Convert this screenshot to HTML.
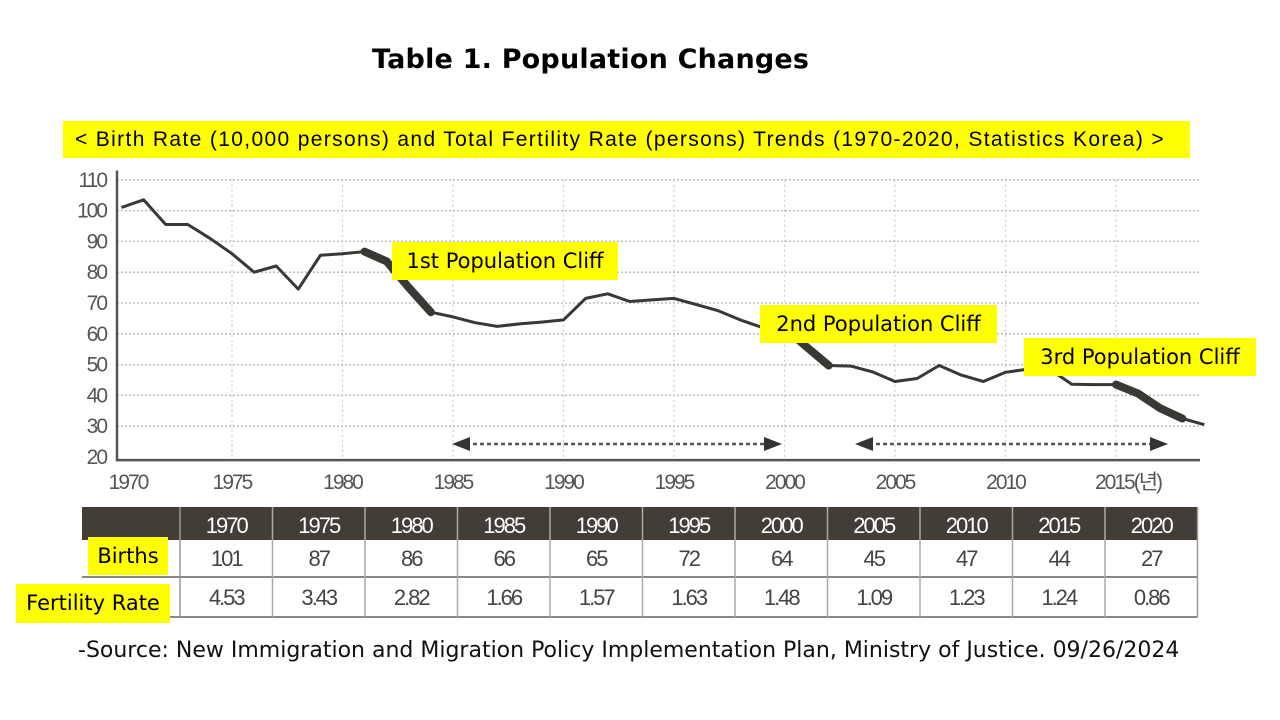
<!DOCTYPE html>
<html><head><meta charset="utf-8"><style>
body{margin:0;width:1280px;height:720px;background:#fff;font-family:"Liberation Sans","DejaVu Sans",sans-serif;position:relative;overflow:hidden}
.abs{position:absolute}
.yl{background:#ffff00;color:#000}
</style></head><body>
<div class="abs" style="left:372px;top:44px;font-size:27px;font-weight:bold;font-family:'DejaVu Sans',sans-serif;letter-spacing:0.2px">Table 1. Population Changes</div>
<div class="abs yl" style="left:63px;top:121px;width:1127px;height:37px;font-size:21px;line-height:37px;padding-left:12px;box-sizing:border-box;letter-spacing:1.35px;white-space:nowrap">&lt; Birth Rate (10,000 persons) and Total Fertility Rate (persons) Trends (1970-2020, Statistics Korea) &gt;</div>
<svg class="abs" style="left:0;top:0" width="1280" height="720" id="chart"></svg>
<div class="abs yl" style="left:392px;top:242px;width:226px;height:38px;font-size:21px;line-height:38px;text-align:center;font-family:'DejaVu Sans',sans-serif">1st Population Cliff</div>
<div class="abs yl" style="left:760px;top:305px;width:237px;height:38px;font-size:21px;line-height:38px;text-align:center;font-family:'DejaVu Sans',sans-serif">2nd Population Cliff</div>
<div class="abs yl" style="left:1024px;top:338px;width:232px;height:38px;font-size:21px;line-height:38px;text-align:center;font-family:'DejaVu Sans',sans-serif">3rd Population Cliff</div>
<div class="abs yl" style="left:88px;top:537px;width:80px;height:38px;font-size:21px;line-height:38px;text-align:center;font-family:'DejaVu Sans',sans-serif">Births</div>
<div class="abs yl" style="left:16px;top:584px;width:154px;height:39px;font-size:21px;line-height:39px;text-align:center;font-family:'DejaVu Sans',sans-serif">Fertility Rate</div>
<div class="abs" style="left:78px;top:638px;font-size:22px;font-family:'DejaVu Sans',sans-serif;color:#111;white-space:nowrap">-Source: New Immigration and Migration Policy Implementation Plan, Ministry of Justice. 09/26/2024</div>
<script>
const years=[1970,1971,1972,1973,1974,1975,1976,1977,1978,1979,1980,1981,1982,1983,1984,1985,1986,1987,1988,1989,1990,1991,1992,1993,1994,1995,1996,1997,1998,1999,2000,2001,2002,2003,2004,2005,2006,2007,2008,2009,2010,2011,2012,2013,2014,2015,2016,2017,2018,2019];
const births=[101,103.5,95.5,95.5,91,86,80,82,74.5,85.5,86,86.7,83.5,75,67,65.5,63.6,62.4,63.2,63.8,64.5,71.5,73,70.5,71,71.5,69.5,67.5,64.5,62,62,55.7,49.7,49.5,47.6,44.5,45.5,49.7,46.6,44.5,47.5,48.5,48.5,43.6,43.5,43.5,40.6,35.8,32.5,30.5];
const thickRanges=[[1981,1984],[2000,2002],[2015,2018]];
const yTicks=[110,100,90,80,70,60,50,40,30,20];
const xTickLabels=["1970","1975","1980","1985","1990","1995","2000","2005","2010","2015(년)"];
const xTickYears=[1970,1975,1980,1985,1990,1995,2000,2005,2010,2015];
const tableYears=["1970","1975","1980","1985","1990","1995","2000","2005","2010","2015","2020"];
const tableBirths=["101","87","86","66","65","72","64","45","47","44","27"];
const tableFertility=["4.53","3.43","2.82","1.66","1.57","1.63","1.48","1.09","1.23","1.24","0.86"];

const svg=document.getElementById('chart');
const NS='http://www.w3.org/2000/svg';
const X=y=>232+(y-1975)*22.1;
const Y=v=>457-(v-20)*3.08;
function mk(t,a){const e=document.createElementNS(NS,t);for(const k in a)e.setAttribute(k,a[k]);svg.appendChild(e);return e;}
const left=117,right=1200;
yTicks.forEach(v=>{
  if(v>20){const g=mk('line',{x1:left,x2:right,y1:Y(v),y2:Y(v),stroke:'#bbb','stroke-width':1.5,'stroke-dasharray':'2 2'});
  
  }
  const t=mk('text',{x:106,y:Y(v)+7,'text-anchor':'end','font-size':21,fill:'#555','font-family':'Liberation Sans Narrow, Liberation Sans, sans-serif','letter-spacing':'-2'});
  t.textContent=v;
  
  
});
xTickYears.forEach((yr,i)=>{
  if(i>0){const g=mk('line',{x1:X(yr),x2:X(yr),y1:Y(110),y2:Y(20),stroke:'#ccc','stroke-width':1.2,'stroke-dasharray':'2 3'});
  
  }
  const t=mk('text',{x:i==0?128:(i==9?X(yr)+12:X(yr)),y:489,'text-anchor':'middle','font-size':21,fill:'#555','font-family':'Liberation Sans Narrow, Liberation Sans, Noto Sans CJK KR, sans-serif','letter-spacing':'-2'});
  t.textContent=xTickLabels[i];
  
  
});
const ax=mk('polyline',{points:`${left},${Y(113)} ${left},${Y(19)} ${right},${Y(19)}`,fill:'none',stroke:'#555','stroke-width':2.5});


const pts=years.map((y,i)=>X(y).toFixed(1)+','+Y(births[i]).toFixed(1)).join(' ');
const ln=mk('polyline',{points:pts,fill:'none',stroke:'#3a3835','stroke-width':3,'stroke-linejoin':'round'});


thickRanges.forEach(r=>{
  const p=years.map((y,i)=>[y,births[i]]).filter(d=>d[0]>=r[0]&&d[0]<=r[1]).map(d=>X(d[0]).toFixed(1)+','+Y(d[1]).toFixed(1)).join(' ');
  const e=mk('polyline',{points:p,fill:'none',stroke:'#3a3835','stroke-width':8,'stroke-linecap':'round'});
  
  
});
function arrow(x1,x2,name){
  const y=444;
  const l=mk('line',{x1:x1+14,x2:x2-14,y1:y,y2:y,stroke:'#555','stroke-width':2.5,'stroke-dasharray':'4 3'});
  
  
  const a=mk('polygon',{points:`${x1},${y} ${x1+18},${y-7} ${x1+18},${y+7}`,fill:'#333'});
  
  
  const b=mk('polygon',{points:`${x2},${y} ${x2-18},${y-7} ${x2-18},${y+7}`,fill:'#333'});
  
  
}
arrow(452,782,'period-arrow-1');
arrow(855,1168,'period-arrow-2');
const tx0=82,c0=180,cw=92.5,r0=507,r1=540,r2=577,r3=617;
const hd=mk('rect',{x:tx0,y:r0,width:c0+cw*11-tx0,height:r1-r0,fill:'#433d37'});


[r2,r3].forEach(y=>{const l=mk('line',{x1:tx0,x2:c0+cw*11,y1:y,y2:y,stroke:'#888','stroke-width':2});

});
for(let i=0;i<=11;i++){const x=c0+cw*i;const l=mk('line',{x1:x,x2:x,y1:r0,y2:r3,stroke:i==0||i==11?'#999':'#aaa','stroke-width':1.5});

}
tableYears.forEach((s,i)=>{
  const cx=c0+cw*(i+0.5);
  const rows=[[s,r0,'#fff'],[tableBirths[i],r1,'#444'],[tableFertility[i],r2,'#444']];
  rows.forEach((r,j)=>{
    const t=mk('text',{x:cx,y:r[1]+(j==2?28:26),'text-anchor':'middle','font-size':22,fill:r[2],'font-family':'Liberation Sans Narrow, Liberation Sans, sans-serif','letter-spacing':'-2'});
    t.textContent=r[0];
    
    
  });
});
</script>
</body></html>
